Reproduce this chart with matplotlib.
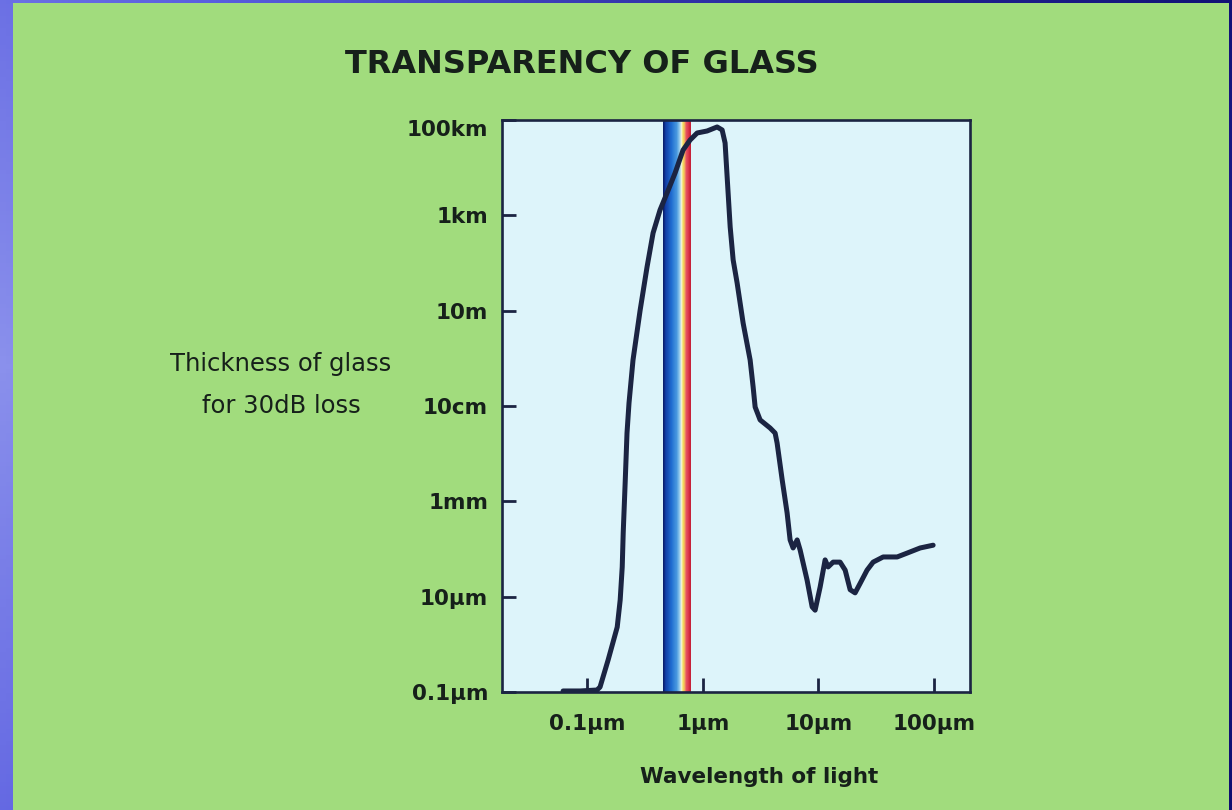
import numpy as np
import matplotlib
matplotlib.use("Agg")
import matplotlib.pyplot as plt
from matplotlib.colors import LinearSegmentedColormap
from matplotlib.patches import Rectangle
from matplotlib.transforms import ScaledTranslation

# wavelength in micrometres, thickness (30 dB loss) in metres
wavelength_um = [0.0615, 0.0863, 0.121, 0.1285, 0.151, 0.181, 0.192, 0.200, 0.204, 0.212,
                 0.220, 0.229, 0.248, 0.286, 0.328, 0.370, 0.425, 0.489, 0.574, 0.673,
                 0.774, 0.891, 1.087, 1.327, 1.467, 1.556, 1.621, 1.722, 1.827, 1.978,
                 2.229, 2.564, 2.722, 2.833, 3.128, 3.818, 4.22, 4.39, 4.86, 5.36,
                 5.69, 6.04, 6.55, 6.95, 7.99, 8.83, 9.37, 10.36, 11.44, 12.14,
                 13.42, 15.42, 17.06, 18.84, 20.8, 23.0, 26.4, 29.8, 36.4, 48.1,
                 58.7, 76.1, 98.6]
thickness_m = [1.05e-7, 1.05e-7, 1.1e-7, 1.27e-7, 4.7e-7, 2.3e-6, 8.5e-6, 4.2e-5, 2.2e-4, 2.4e-3,
               0.027, 0.116, 0.92, 10.3, 82, 425, 1290, 2940, 7730, 23400,
               38000, 53300, 58700, 71300, 61700, 32900, 6370, 569, 116, 38,
               5.5, 0.92, 0.25, 0.095, 0.051, 0.0345, 0.027, 0.0167, 2.8e-3, 5.7e-4,
               1.55e-4, 1.05e-4, 1.55e-4, 9.5e-5, 2.2e-5, 6.1e-6, 5.2e-6, 1.6e-5, 5.9e-5, 4.2e-5,
               5.3e-5, 5.3e-5, 3.6e-5, 1.4e-5, 1.2e-5, 1.9e-5, 3.6e-5, 5.3e-5, 6.8e-5, 6.8e-5,
               8.2e-5, 1.05e-4, 1.2e-4]

x_ticks = [0.1, 1, 10, 100]
x_labels = ["0.1μm", "1μm", "10μm", "100μm"]
y_ticks = [1e5, 1e3, 1e1, 1e-1, 1e-3, 1e-5, 1e-7]
y_labels = ["100km", "1km", "10m", "10cm", "1mm", "10μm", "0.1μm"]

visible_band = (0.45, 0.79)  # micrometres

ink = "#16201a"
navy = "#1b2442"
green = "#a1dc7d"

plt.rcParams["font.family"] = ["DejaVu Sans"]

fig = plt.figure(figsize=(12.32, 8.10), dpi=100)

# slide backdrop: blue gradient with a green card on top
bg = fig.add_axes([0, 0, 1, 1])
gx = np.linspace(0, 1, 200)
gy = np.linspace(0, 1, 200)
GX, GY = np.meshgrid(gx, gy)
shade = 0.55 * GX + 0.35 * np.abs(GY - 0.45)
bg_cmap = LinearSegmentedColormap.from_list("bg", ["#8a90ec", "#5a5ee0", "#2a2aa0", "#0e0e70"])
bg.imshow(shade, cmap=bg_cmap, extent=[0, 1, 0, 1], aspect="auto", origin="upper")
bg.add_patch(Rectangle((13 / 1232, 0), (1229 - 13) / 1232, 1 - 3 / 810,
                       facecolor=green, edgecolor="none"))
bg.set_xlim(0, 1)
bg.set_ylim(0, 1)
bg.axis("off")

ax = fig.add_axes([0.4075, 0.1457, 0.3799, 0.7062])
ax.set_facecolor("#ddf4fa")
ax.set_xscale("log")
ax.set_yscale("log")
ax.set_xlim(0.0182, 206)
ax.set_ylim(1e-7, 1e5)

# visible spectrum strip
spec_cmap = LinearSegmentedColormap.from_list(
    "spectrum",
    [(0.0, "#0a1a66"), (0.10, "#123fa8"), (0.30, "#1f6cd0"), (0.50, "#4a9ae0"),
     (0.60, "#9fd0ee"), (0.66, "#f2f2d8"), (0.72, "#f4e05a"), (0.78, "#f0a060"),
     (0.84, "#e65060"), (0.94, "#d62a40"), (1.0, "#c01e36")])
n_strip = 120
xe = np.geomspace(visible_band[0], visible_band[1], n_strip + 1)
ax.pcolormesh(xe, [1e-7, 1e5], np.linspace(0, 1, n_strip)[None, :],
              cmap=spec_cmap, shading="flat", zorder=1)

ax.plot(wavelength_um, thickness_m, color=navy, lw=3.6,
        solid_capstyle="round", solid_joinstyle="round", zorder=3)

ax.set_xticks(x_ticks)
ax.set_xticklabels(x_labels)
ax.set_yticks(y_ticks)
ax.set_yticklabels(y_labels)
ax.minorticks_off()
ax.tick_params(axis="both", direction="in", length=10, width=2, color=navy,
               labelsize=15.5, labelcolor=ink)
ax.tick_params(axis="x", pad=16)
ax.tick_params(axis="y", pad=10)
for lab in ax.get_xticklabels() + ax.get_yticklabels():
    lab.set_fontweight("bold")
# top label sits a little below the frame line
top_lab = ax.get_yticklabels()[0]
top_lab.set_transform(top_lab.get_transform() + ScaledTranslation(0, -6 / 72, fig.dpi_scale_trans))
for sp in ax.spines.values():
    sp.set_linewidth(1.9)
    sp.set_color(navy)
    sp.set_zorder(4)

fig.text(0.4724, 0.9198, "TRANSPARENCY OF GLASS", ha="center", va="center",
         fontsize=23, fontweight="bold", color=ink)
fig.text(0.2281, 0.5247, "Thickness of glass\nfor 30dB loss", ha="center", va="center",
         multialignment="center", fontsize=17.5, linespacing=1.95, color=ink)
ax.text(0.550, -0.1486, "Wavelength of light", transform=ax.transAxes,
        ha="center", va="center", fontsize=15.5, fontweight="bold", color=ink)

fig.savefig("out.png", dpi=100)
